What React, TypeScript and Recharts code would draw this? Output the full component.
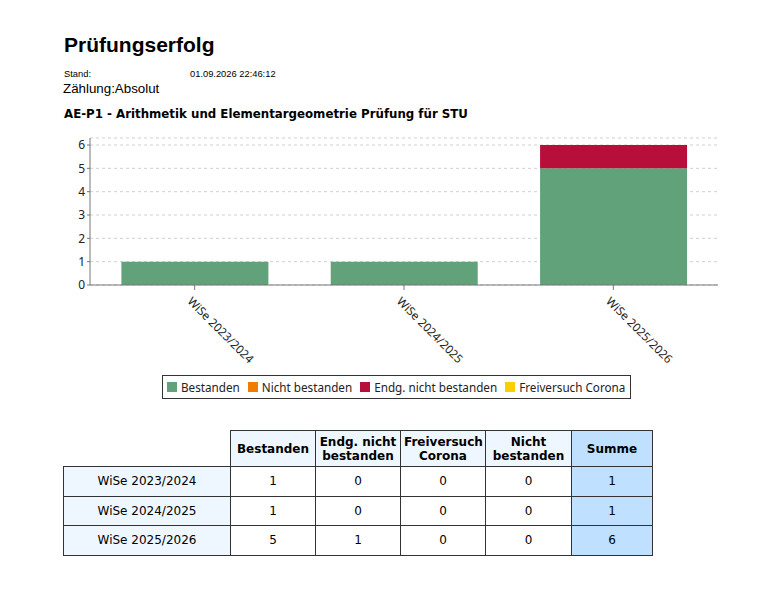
import { BarChart, Bar, XAxis, YAxis, CartesianGrid, Legend } from 'recharts'

const categories = ['WiSe 2023/2024', 'WiSe 2024/2025', 'WiSe 2025/2026']
const bestanden = [1, 1, 5]
const nichtBestanden = [0, 0, 0]
const endgNichtBestanden = [0, 0, 1]
const freiversuchCorona = [0, 0, 0]
const yTicks = [0, 1, 2, 3, 4, 5, 6]

const series = [
  { key: 'bestanden', name: 'Bestanden', color: '#62a27b' },
  { key: 'nichtBestanden', name: 'Nicht bestanden', color: '#ef7d00' },
  { key: 'endgNichtBestanden', name: 'Endg. nicht bestanden', color: '#b80f3a' },
  { key: 'freiversuchCorona', name: 'Freiversuch Corona', color: '#fccd00' },
]

const data = categories.map((name, i) => ({
  name,
  bestanden: bestanden[i],
  nichtBestanden: nichtBestanden[i],
  endgNichtBestanden: endgNichtBestanden[i],
  freiversuchCorona: freiversuchCorona[i],
}))

const chartFont = '"Noto Sans", sans-serif'
const tableFont = '"DejaVu Sans", sans-serif'
const headFont = '"Liberation Sans", Arial, sans-serif'

function AngledTick({ x, y, payload }: any) {
  return (
    <g transform={`translate(${x - 8},${y + 10})`}>
      <text transform="rotate(45)" textAnchor="start" fill="#222" fontSize={11.7} fontFamily={chartFont}>
        {payload.value}
      </text>
    </g>
  )
}

function LegendBox() {
  return (
    <div style={{ height: 40, paddingTop: 5, boxSizing: 'border-box' }}>
      <div
        style={{
          marginLeft: 162,
          width: 469,
          height: 24,
          boxSizing: 'border-box',
          border: '1px solid #333',
          display: 'flex',
          alignItems: 'center',
          paddingLeft: 4,
          fontFamily: chartFont,
          fontSize: 11.7,
          color: '#222',
          whiteSpace: 'nowrap',
        }}
      >
        {series.map((s) => (
          <span key={s.key} style={{ display: 'flex', alignItems: 'center', marginRight: 8, flexShrink: 0 }}>
            <span style={{ width: 10, height: 10, background: s.color, marginRight: 4, flexShrink: 0 }} />
            {s.name}
          </span>
        ))}
      </div>
    </div>
  )
}

const th: React.CSSProperties = {
  border: '1px solid #333',
  background: '#eef6ff',
  fontWeight: 'bold',
  padding: '2px 3px',
  textAlign: 'center',
}
const td: React.CSSProperties = {
  border: '1px solid #333',
  padding: 0,
  textAlign: 'center',
}

export default function App() {
  const rows = categories.map((c, i) => {
    const vals = [bestanden[i], endgNichtBestanden[i], freiversuchCorona[i], nichtBestanden[i]]
    return { c, vals, sum: vals.reduce((a, b) => a + b, 0) }
  })

  return (
    <div style={{ position: 'absolute', left: 0, top: 0, width: 761, height: 599, background: '#fff', color: '#000' }}>
      <div style={{ position: 'absolute', left: 64, top: 33, fontFamily: headFont, fontWeight: 'bold', fontSize: 21, whiteSpace: 'nowrap' }}>
        Prüfungserfolg
      </div>
      <div style={{ position: 'absolute', left: 64, top: 68.5, fontFamily: headFont, fontSize: 9.33, whiteSpace: 'nowrap' }}>
        Stand:
      </div>
      <div style={{ position: 'absolute', left: 190, top: 68.5, fontFamily: headFont, fontSize: 9.33, whiteSpace: 'nowrap' }}>
        01.09.2026 22:46:12
      </div>
      <div style={{ position: 'absolute', left: 63, top: 80.5, fontFamily: headFont, fontSize: 13.33, whiteSpace: 'nowrap' }}>
        Zählung:Absolut
      </div>
      <div style={{ position: 'absolute', left: 64, top: 107, fontFamily: tableFont, fontWeight: 'bold', fontSize: 11.8, whiteSpace: 'nowrap' }}>
        AE-P1 - Arithmetik und Elementargeometrie Prüfung für STU
      </div>

      <div style={{ position: 'absolute', left: 0, top: 130 }}>
        <BarChart width={761} height={280} data={data} margin={{ top: 8, right: 43, left: 40, bottom: 0 }} barCategoryGap="15%">
          <CartesianGrid vertical={false} strokeDasharray="3 3" stroke="#d0d0d0" />
          <XAxis
            dataKey="name"
            height={85}
            interval={0}
            tick={<AngledTick />}
            tickSize={5}
            stroke="#777"
            axisLine={{ stroke: '#777' }}
          />
          <YAxis
            width={50}
            domain={[0, 6.3]}
            ticks={yTicks}
            tickSize={3}
            stroke="#777"
            tick={{ fill: '#222', fontSize: 12, fontFamily: chartFont }}
          />
          <Legend verticalAlign="bottom" content={<LegendBox />} wrapperStyle={{ left: 0, width: 761, bottom: 0 }} />
          {series.map((s) => (
            <Bar key={s.key} dataKey={s.key} name={s.name} stackId="a" fill={s.color} isAnimationActive={false} />
          ))}
        </BarChart>
      </div>

      <table
        style={{
          position: 'absolute',
          left: 63,
          top: 430,
          borderCollapse: 'collapse',
          fontFamily: tableFont,
          fontSize: 12,
          tableLayout: 'fixed',
          width: 589,
        }}
      >
        <colgroup>
          <col style={{ width: 167 }} />
          <col style={{ width: 85 }} />
          <col style={{ width: 85 }} />
          <col style={{ width: 85 }} />
          <col style={{ width: 86 }} />
          <col style={{ width: 81 }} />
        </colgroup>
        <thead>
          <tr style={{ height: 36 }}>
            <th style={{ border: 'none', background: 'transparent' }} />
            <th style={th}>Bestanden</th>
            <th style={th}>Endg. nicht bestanden</th>
            <th style={th}>Freiversuch Corona</th>
            <th style={th}>Nicht bestanden</th>
            <th style={{ ...th, background: '#bfe0ff' }}>Summe</th>
          </tr>
        </thead>
        <tbody>
          {rows.map((r) => (
            <tr key={r.c} style={{ height: 29.5 }}>
              <td style={{ ...td, background: '#eef6ff' }}>{r.c}</td>
              {r.vals.map((v, j) => (
                <td key={j} style={td}>
                  {v}
                </td>
              ))}
              <td style={{ ...td, background: '#bfe0ff' }}>{r.sum}</td>
            </tr>
          ))}
        </tbody>
      </table>
    </div>
  )
}
